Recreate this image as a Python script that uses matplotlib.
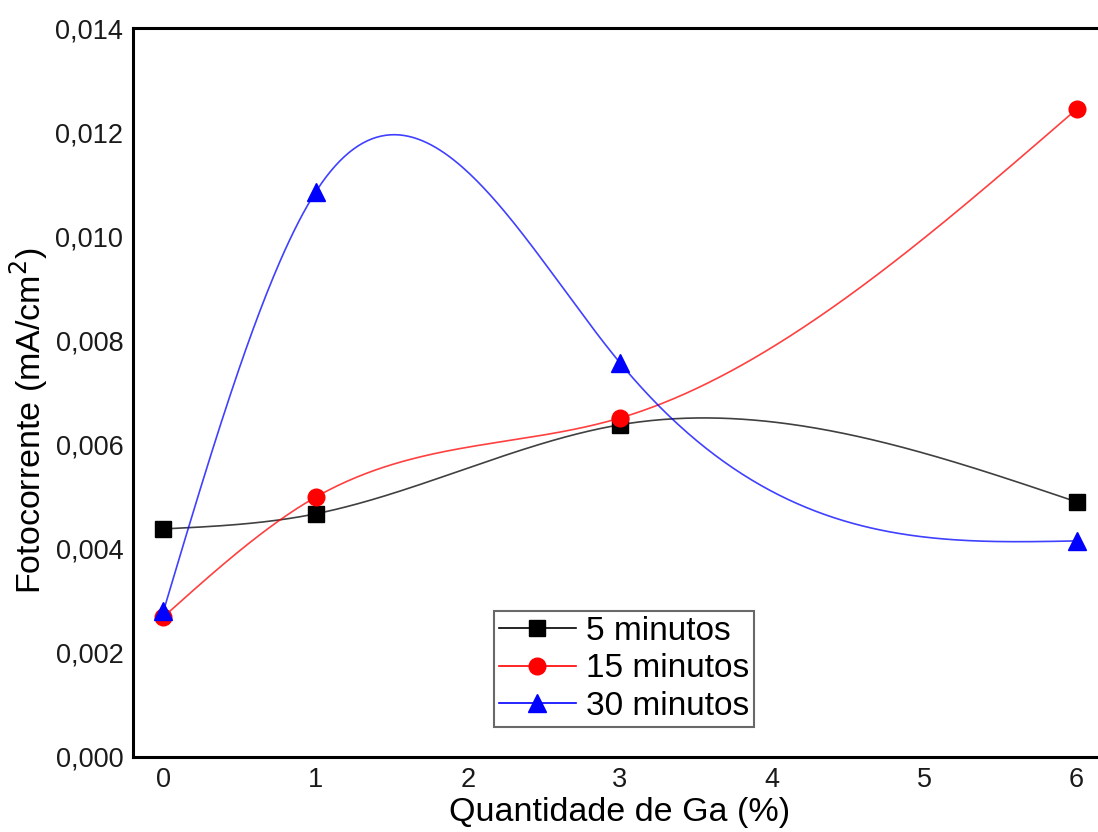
import numpy as np
import matplotlib
matplotlib.use("Agg")
import matplotlib.pyplot as plt
from matplotlib.ticker import FuncFormatter

x = [0, 1, 3, 6]
y5 = [0.00438, 0.00467, 0.00638, 0.00490]
y15 = [0.00269, 0.00499, 0.00651, 0.01244]
y30 = [0.00280, 0.01085, 0.00757, 0.00415]
labels = ["5 minutos", "15 minutos", "30 minutos"]
xticks = [0, 1, 2, 3, 4, 5, 6]
yticks = [0.000, 0.002, 0.004, 0.006, 0.008, 0.010, 0.012, 0.014]


def natural_spline(xs, ys, xn):
    xs = np.asarray(xs, float); ys = np.asarray(ys, float)
    n = len(xs)
    h = np.diff(xs)
    A = np.zeros((n, n)); b = np.zeros(n)
    A[0, 0] = 1; A[-1, -1] = 1
    for i in range(1, n - 1):
        A[i, i - 1] = h[i - 1]
        A[i, i] = 2 * (h[i - 1] + h[i])
        A[i, i + 1] = h[i]
        b[i] = 3 * ((ys[i + 1] - ys[i]) / h[i] - (ys[i] - ys[i - 1]) / h[i - 1])
    c = np.linalg.solve(A, b)
    out = np.empty_like(xn)
    for k, xv in enumerate(xn):
        i = min(max(np.searchsorted(xs, xv) - 1, 0), n - 2)
        dx = xv - xs[i]
        bb = (ys[i + 1] - ys[i]) / h[i] - h[i] * (2 * c[i] + c[i + 1]) / 3
        d = (c[i + 1] - c[i]) / (3 * h[i])
        out[k] = ys[i] + bb * dx + c[i] * dx ** 2 + d * dx ** 3
    return out


plt.rcParams['font.family'] = ['Liberation Sans', 'DejaVu Sans']
fig = plt.figure(figsize=(10.98, 8.32), dpi=100)
ax = fig.add_axes([133 / 1098, 75 / 832, (1107 - 133) / 1098, (757 - 28) / 832])

xn = np.linspace(0, 6, 400)
series = [(y5, 'black', 's', 11), (y15, 'red', 'o', 12), (y30, 'blue', '^', 13)]
for (ys, col, mk, ms), lab in zip(series, labels):
    ax.plot(xn, natural_spline(x, ys, xn), color=col, lw=1.2, alpha=0.75)
    ax.plot(x, ys, linestyle='none', marker=mk, color=col, ms=ms)
    ax.plot([], [], color=col, lw=1.2, marker=mk, ms=ms, label=lab)

ax.set_xlim(-0.2, 6.2)
ax.set_ylim(0, 0.014)
ax.set_xticks(xticks)
ax.set_yticks(yticks)
ax.yaxis.set_major_formatter(FuncFormatter(lambda v, p: f"{v:.3f}".replace('.', ',')))
ax.tick_params(length=0, labelsize=19.5, pad=7, colors='#1a1a1a')
for s in ax.spines.values():
    s.set_linewidth(2.2)
ax.set_xlabel("Quantidade de Ga (%)", fontsize=24.5, labelpad=3)
ax.set_ylabel("Fotocorrente (mA/cm$^2$)", fontsize=24.5, labelpad=3)
ax.yaxis.set_label_coords(-0.085, 0.462)

leg = ax.legend(loc='lower left', bbox_to_anchor=((494 - 133) / 974, (832 - 727 - 75) / 729),
                fontsize=24, frameon=True, fancybox=False, edgecolor='#444444',
                handlelength=2.3, borderpad=0.15, labelspacing=0.2, handletextpad=0.3,
                borderaxespad=0)
leg.get_frame().set_linewidth(1.5)

fig.savefig("out.png", dpi=100)
